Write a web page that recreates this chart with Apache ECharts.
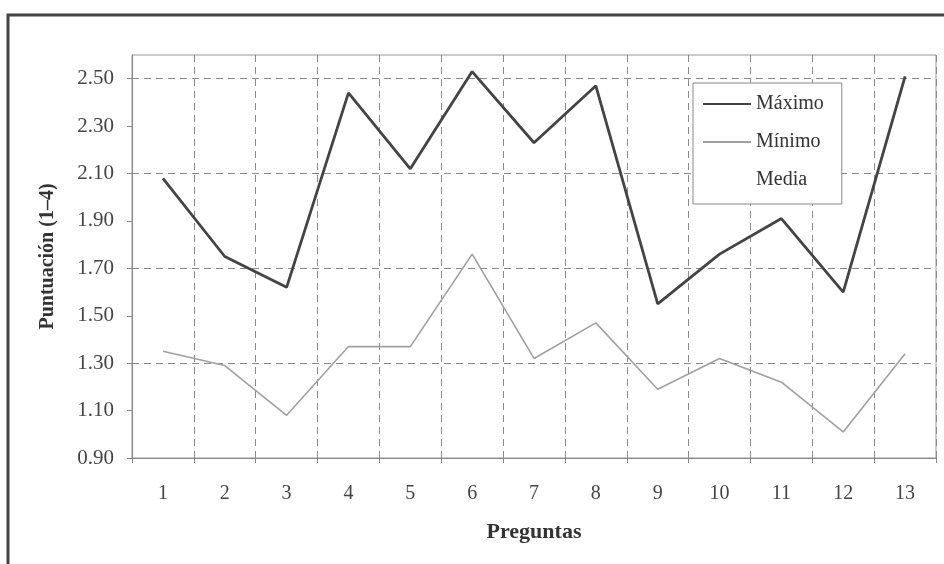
<!DOCTYPE html>
<html>
<head>
<meta charset="utf-8">
<script src="https://cdn.jsdelivr.net/npm/echarts@6/dist/echarts.min.js"></script>
<style>
html,body{margin:0;padding:0;background:#fff;}
#chart{width:944px;height:564px;}
</style>
</head>
<body>
<div id="chart"></div>
<script>
const categories = ['1','2','3','4','5','6','7','8','9','10','11','12','13'];
const maximo = [2.08, 1.75, 1.62, 2.44, 2.12, 2.53, 2.23, 2.47, 1.55, 1.76, 1.91, 1.60, 2.51];
const minimo = [1.35, 1.29, 1.08, 1.37, 1.37, 1.76, 1.32, 1.47, 1.19, 1.32, 1.22, 1.01, 1.34];
const media = [];
const yTickValues = [0.9, 1.1, 1.3, 1.5, 1.7, 1.9, 2.1, 2.3, 2.5];

const FONT = 'Liberation Serif';
const chart = echarts.init(document.getElementById('chart'), null, {renderer: 'canvas'});
const dash = {type: [7, 5], color: '#8a8a8a', width: 1};

chart.setOption({
  backgroundColor: '#fff',
  animation: false,
  textStyle: {fontFamily: FONT, color: '#333'},
  graphic: [{
    type: 'rect', z: -10, silent: true,
    shape: {x: 8, y: 15, width: 960, height: 620},
    style: {fill: 'none', stroke: '#444', lineWidth: 3}
  }],
  grid: {left: 132, right: 8, top: 55, bottom: 106, show: true, borderColor: '#999', borderWidth: 1},
  legend: {
    orient: 'vertical', left: 693, top: 83,
    backgroundColor: '#fff', borderColor: '#888', borderWidth: 1,
    padding: [11, 18, 14, 9],
    itemWidth: 48, itemHeight: 14, itemGap: 18,
    itemStyle: {opacity: 0},
    textStyle: {fontFamily: FONT, fontSize: 20, color: '#333'},
    data: ['Máximo', 'Mínimo', 'Media']
  },
  xAxis: {
    type: 'category', data: categories, boundaryGap: true,
    name: 'Preguntas', nameLocation: 'middle', nameGap: 63,
    nameTextStyle: {fontFamily: FONT, fontSize: 22, fontWeight: 'bold', color: '#333'},
    axisLine: {lineStyle: {color: '#888', width: 1}},
    axisTick: {show: true, length: 5, lineStyle: {color: '#888'}},
    axisLabel: {margin: 26, fontFamily: FONT, fontSize: 20, color: '#444'},
    splitLine: {show: true, lineStyle: dash}
  },
  yAxis: {
    type: 'value', min: 0.9, max: 2.6, interval: 0.1,
    name: 'Puntuación (1–4)', nameLocation: 'middle', nameGap: 74, nameRotate: 90,
    nameTextStyle: {fontFamily: FONT, fontSize: 20, fontWeight: 'bold', color: '#333'},
    axisLine: {show: true, lineStyle: {color: '#888', width: 1}},
    axisTick: {show: true, length: 5, customValues: yTickValues, lineStyle: {color: '#888'}},
    axisLabel: {
      margin: 18, fontFamily: FONT, fontSize: 21, color: '#444',
      customValues: yTickValues,
      formatter: v => v.toFixed(2)
    },
    splitLine: {show: true, lineStyle: {type: [7, 5], width: 1, color: ['#8a8a8a', 'rgba(0,0,0,0)']}}
  },
  series: [
    {name: 'Máximo', type: 'line', data: maximo, symbol: 'none',
     lineStyle: {color: '#444', width: 2.8}, itemStyle: {color: '#444'}, z: 5},
    {name: 'Mínimo', type: 'line', data: minimo, symbol: 'none',
     lineStyle: {color: '#a0a0a0', width: 1.6}, itemStyle: {color: '#a0a0a0'}, z: 4},
    {name: 'Media', type: 'line', data: media, symbol: 'none',
     lineStyle: {color: '#ffffff', width: 1.5}, itemStyle: {color: '#ffffff'}}
  ]
});
</script>
</body>
</html>
